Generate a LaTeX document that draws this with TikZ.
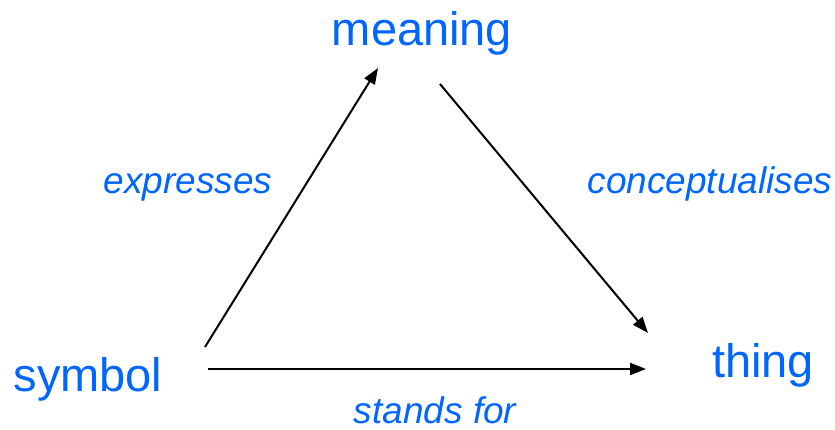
\documentclass[tikz,border=0pt]{standalone}
\usepackage{fontspec}
\setmainfont{Liberation Sans}
\usetikzlibrary{arrows.meta}
\definecolor{lblue}{RGB}{0,102,255}
\begin{document}
\begin{tikzpicture}[x=1pt,y=-1pt,
  term/.style={inner sep=0pt,anchor=base,text=lblue,font=\fontsize{47}{56}\selectfont},
  rel/.style={inner sep=0pt,anchor=base,text=lblue,font=\fontsize{37}{44}\selectfont\itshape},
  arr/.style={line width=2pt,-{Triangle[length=16pt,width=12pt]}}]
\useasboundingbox (0,0) rectangle (835,429);
\node[term] (meaning) at (422,45) {meaning};
\node[term] (symbol) at (88,391) {symbol};
\node[term] (thing) at (763,377) {thing};
\node[rel] (expresses) at (188,193) {expresses};
\node[rel] (concept) at (710,193) {conceptualises};
\node[rel] (stands) at (435,423) {stands for};
\coordinate (a1) at (205,347);
\coordinate (a2) at (378,68);
\coordinate (b1) at (440,84);
\coordinate (b2) at (648,333);
\coordinate (c1) at (208,369);
\coordinate (c2) at (646,369);
\draw[arr] (a1) -- (a2);
\draw[arr] (b1) -- (b2);
\draw[arr] (c1) -- (c2);
\end{tikzpicture}
\end{document}
